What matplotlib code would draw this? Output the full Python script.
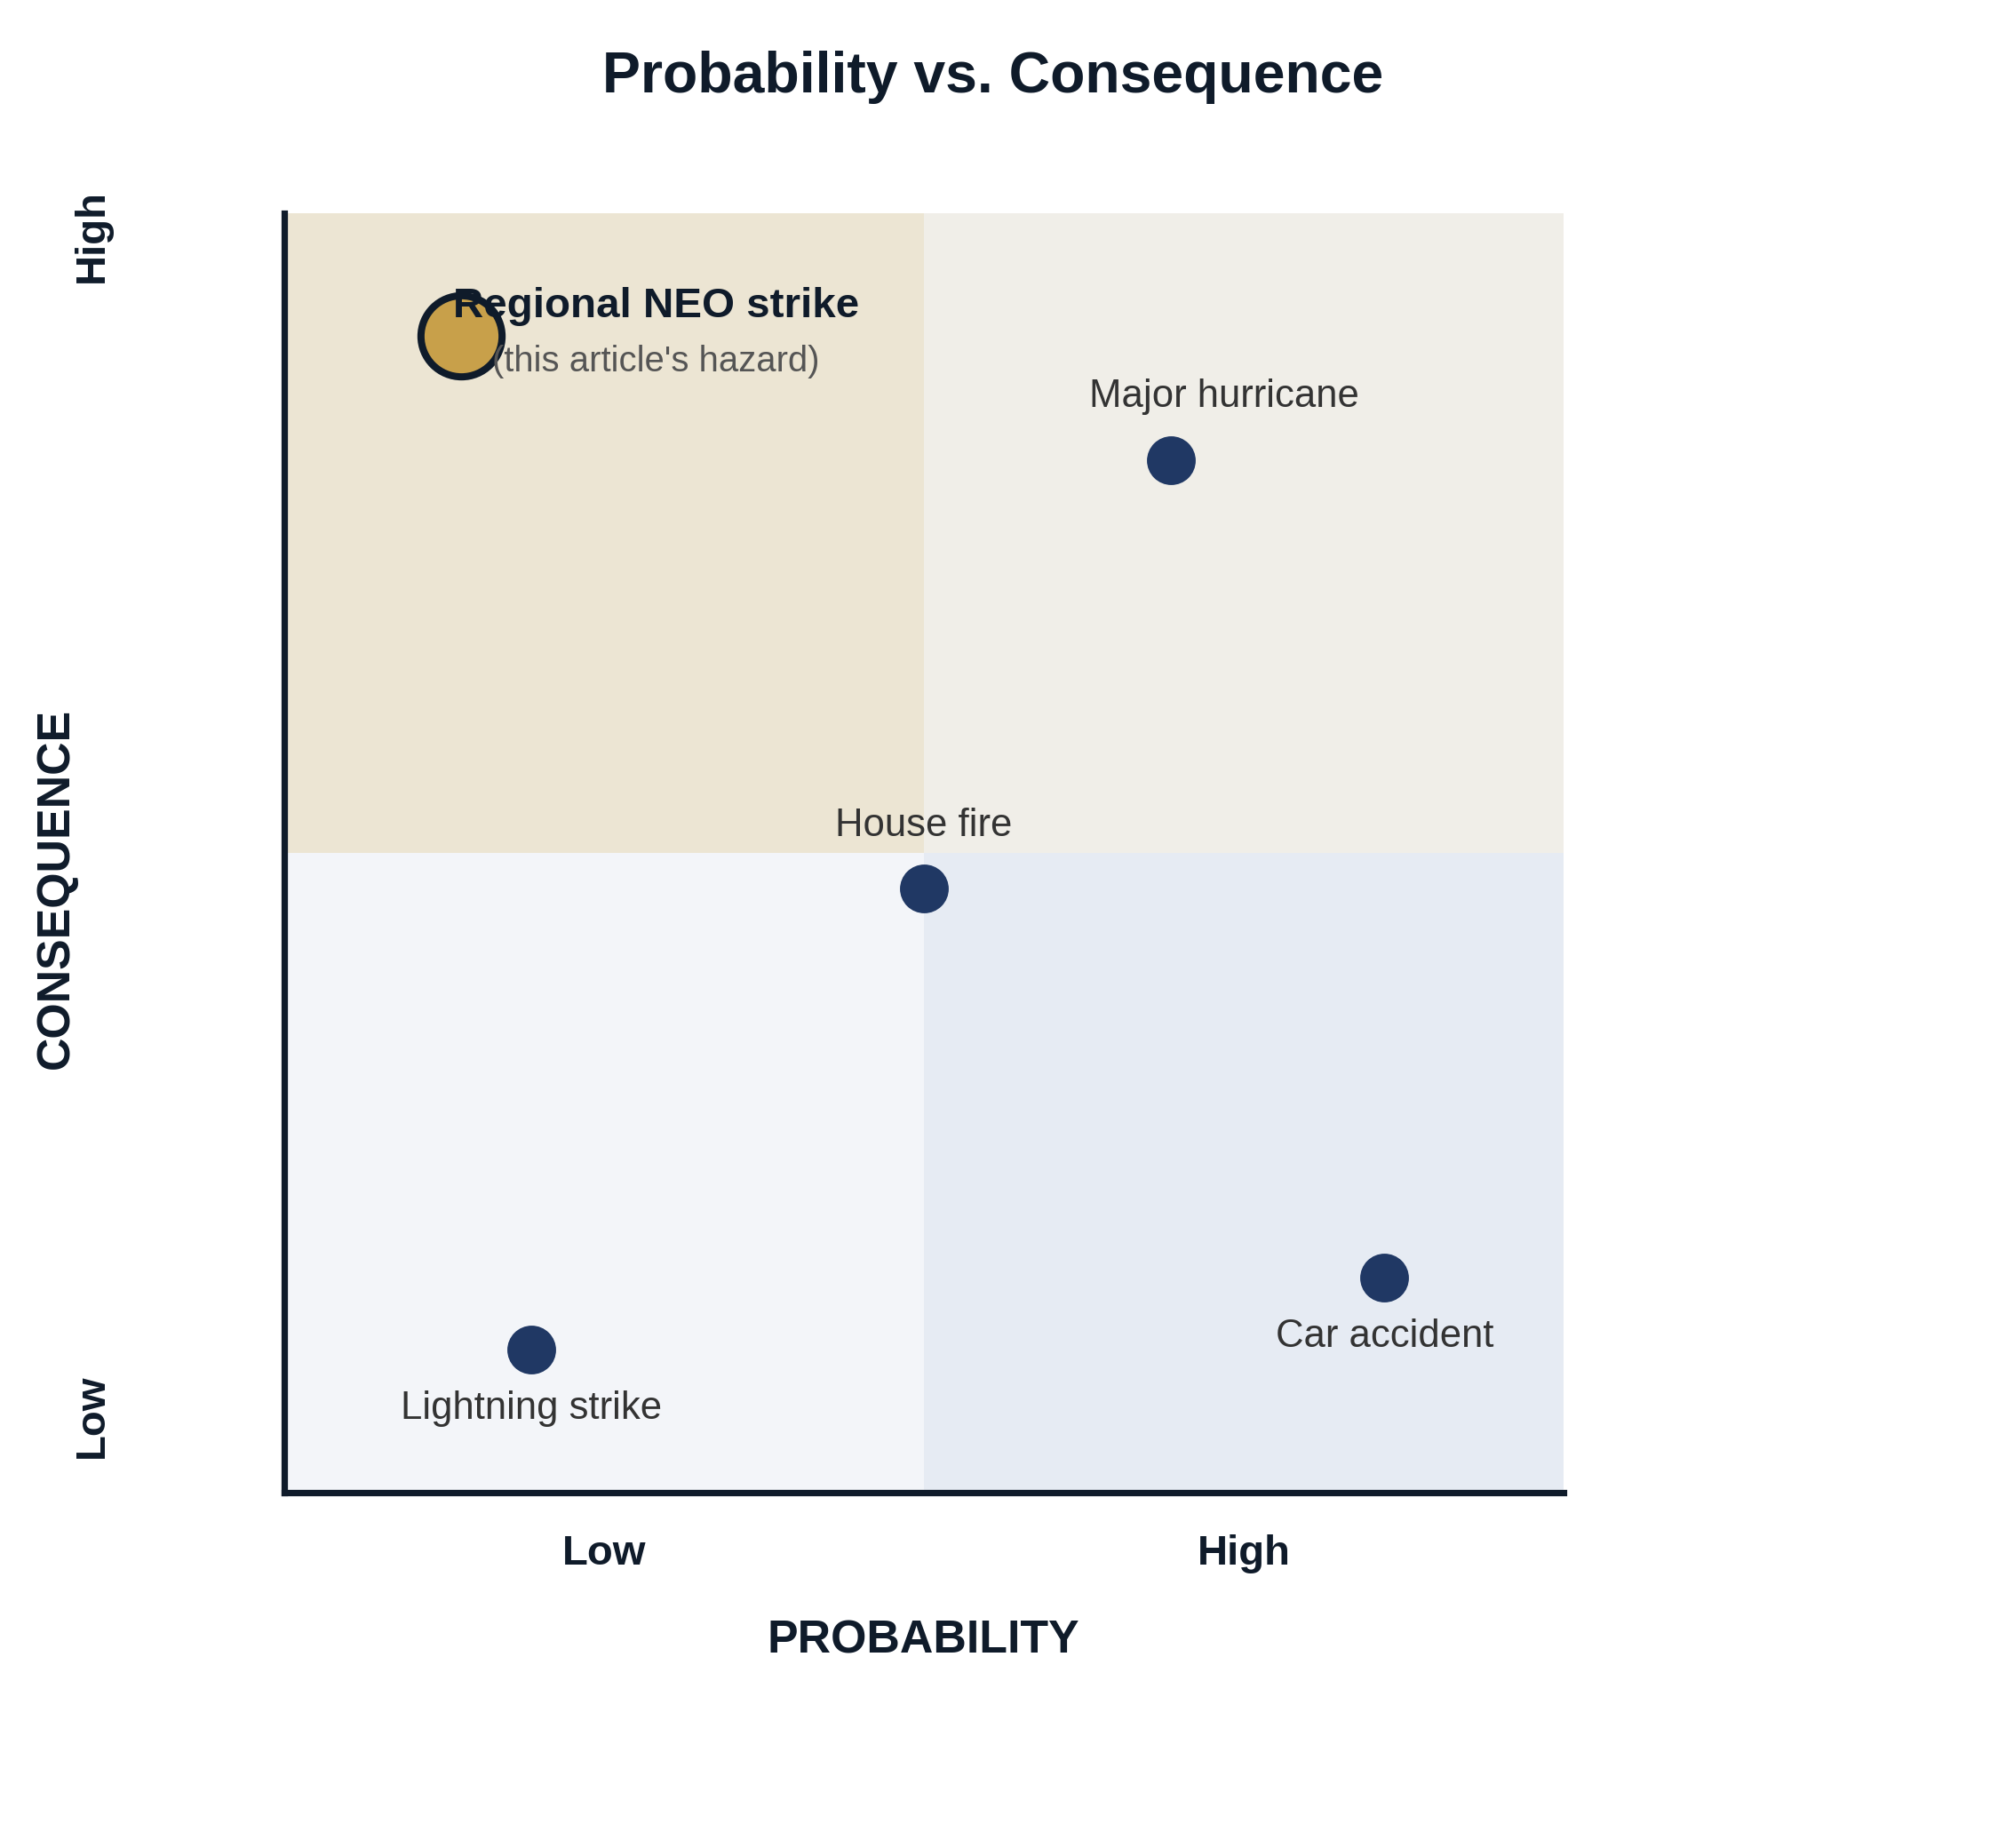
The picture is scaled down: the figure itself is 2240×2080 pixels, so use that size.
import matplotlib
matplotlib.use("Agg")
import matplotlib.pyplot as plt
import matplotlib.transforms as mtransforms

plt.rcParams['font.family'] = ['Liberation Sans', 'DejaVu Sans']

# ---- data ----
hazards = ["Major hurricane", "House fire", "Car accident", "Lightning strike"]
probability = [6.93, 5.0, 8.6, 1.93]
consequence = [8.07, 4.72, 1.68, 1.12]
label_side = ["above", "above", "below", "below"]
label_shift_x = [21.6, 0, 0, 0]  # horizontal label nudge (points)

focus_name = "Regional NEO strike"
focus_note = "(this article's hazard)"
focus_probability = 1.38
focus_consequence = 9.04

x_tick_pos = [2.5, 7.5]
x_tick_labels = ["Low", "High"]
y_tick_pos = [9.82, 0.6]
y_tick_labels = ["High", "Low"]

quadrants = [  # (x0, x1, y0, y1, colour)
    (0, 5, 5, 10, "#ECE5D3"),
    (5, 10, 5, 10, "#F0EEE8"),
    (0, 5, 0, 5, "#F3F5F9"),
    (5, 10, 0, 5, "#E6EBF3"),
]

DARK = "#0F1B2A"
DOT = "#203864"

fig = plt.figure(figsize=(11.2, 10.4), dpi=200)
ax = fig.add_axes([320/2240, 1 - 1680/2080, 1440/2240, 1440/2080])
ax.set_xlim(0, 10)
ax.set_ylim(0, 10)

for x0, x1, y0, y1, c in quadrants:
    ax.fill_between([x0, x1], y0, y1, color=c, linewidth=0, zorder=0)

ax.scatter(probability, consequence, s=390, color=DOT, zorder=3, linewidths=0)
for name, x, y, side, sx in zip(hazards, probability, consequence, label_side, label_shift_x):
    dy = 25.6 if side == "above" else -24
    ax.annotate(name, (x, y), xytext=(sx, dy), textcoords="offset points",
                ha="center", va="center", fontsize=15.7, color="#333333", zorder=5)

ax.scatter([focus_probability], [focus_consequence], s=1080, color="#C8A04A",
           edgecolors=DARK, linewidths=2.9, zorder=3)
ax.annotate(focus_name, (focus_probability, focus_consequence), xytext=(79, 12),
            textcoords="offset points", ha="center", va="center", fontsize=17.1,
            fontweight="bold", color=DARK, zorder=6)
ax.annotate(focus_note, (focus_probability, focus_consequence), xytext=(79, -10.3),
            textcoords="offset points", ha="center", va="center", fontsize=14.4,
            color="#555555", zorder=6)

for s in ["top", "right"]:
    ax.spines[s].set_visible(False)
for s in ["left", "bottom"]:
    ax.spines[s].set_linewidth(2.6)
    ax.spines[s].set_color(DARK)
    ax.spines[s].set_zorder(4)

ax.set_xticks(x_tick_pos)
ax.set_xticklabels(x_tick_labels, fontsize=17, fontweight="bold", color=DARK)
ax.tick_params(axis="x", length=0, pad=17)
ax.set_yticks([])

trans = mtransforms.blended_transform_factory(fig.transFigure, ax.transData)
for pos, lab in zip(y_tick_pos, y_tick_labels):
    ax.text(104/2240, pos, lab, transform=trans, rotation=90, ha="center", va="center",
            fontsize=17, fontweight="bold", color=DARK)

fig.text(1039/2240, 1 - 1847/2080, "PROBABILITY", ha="center", va="center",
         fontsize=18.7, fontweight="bold", color=DARK)
fig.text(63/2240, 1 - 1000/2080, "CONSEQUENCE", ha="center", va="center", rotation=90,
         fontsize=18.7, fontweight="bold", color=DARK)
fig.text(1118/2240, 1 - 87/2080, "Probability vs. Consequence", ha="center", va="center",
         fontsize=23.2, fontweight="bold", color=DARK)

fig.savefig("out.png", dpi=200, facecolor="white")
